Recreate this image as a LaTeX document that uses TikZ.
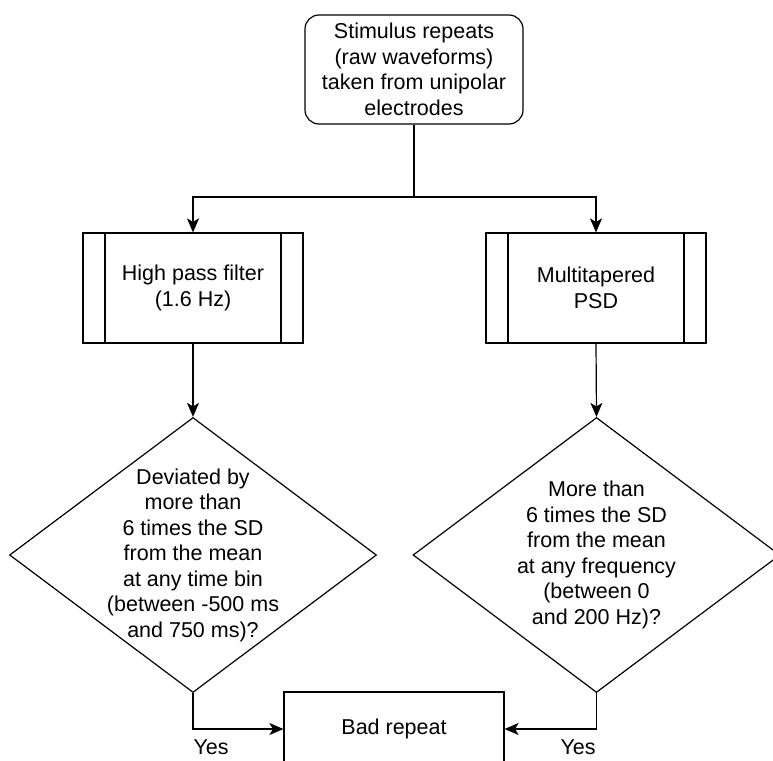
\documentclass[tikz,border=0pt]{standalone}
\usepackage{fontspec}
\setmainfont{Liberation Sans}
\usetikzlibrary{shapes.geometric,arrows.meta}

\begin{document}
\begin{tikzpicture}[x=1pt, y=-1pt, line width=1.2pt,
    >={Stealth[length=14pt,width=12pt,inset=3.5pt]},
    every node/.style={font=\fontsize{21.5}{25.5}\selectfont, align=center},
    startbox/.style={draw, rounded corners=14pt, minimum width=218pt, minimum height=109pt},
    subproc/.style={draw, minimum width=220pt, minimum height=110pt,
      path picture={
        \draw ([xshift=22pt]path picture bounding box.north west) -- ([xshift=22pt]path picture bounding box.south west);
        \draw ([xshift=-22pt]path picture bounding box.north east) -- ([xshift=-22pt]path picture bounding box.south east);}},
    decision/.style={draw, diamond, inner sep=0pt, minimum width=367pt, minimum height=275pt},
    endbox/.style={draw, minimum width=220pt, minimum height=74pt}]
      \useasboundingbox (0,0) rectangle (773,760);
      \clip (0,0) rectangle (773,760);

      \node[startbox] (start) at (414,69.5) {Stimulus repeats\\(raw waveforms)\\taken from unipolar\\electrodes};
      \coordinate (split) at (414,197);

      \node[subproc] (hpf) at (193,288) {High pass filter\\(1.6 Hz)};
      \node[subproc] (psd) at (596,288) {Multitapered\\PSD};

      \node[decision] (dev) at (193,555) {};
      \node (devtext) at (dev.center) {Deviated by\\more than\\6 times the SD\\from the mean\\at any time bin\\(between -500 ms\\and 750 ms)?};
      \node[decision] (chk) at (596.5,555) {};
      \node (chktext) at (chk.center) {More than\\6 times the SD\\from the mean\\at any frequency\\(between 0\\and 200 Hz)?};

      \node[endbox] (bad) at (394,729) {Bad repeat};

      \draw (start.south) -- (split);
      \draw[->] (split) -| (hpf.north);
      \draw[->] (split) -| (psd.north);
      \draw[->] (hpf.south) -- (dev.north);
      \draw[->] (psd.south) -- (chk.north);
      \draw[->] (dev.south) |- node[pos=0.6, below=7pt] (yes1) {Yes} (bad.west);
      \draw[->] (chk.south) |- node[pos=0.6, below=7pt] (yes2) {Yes} (bad.east);
    \end{tikzpicture}
\end{document}
